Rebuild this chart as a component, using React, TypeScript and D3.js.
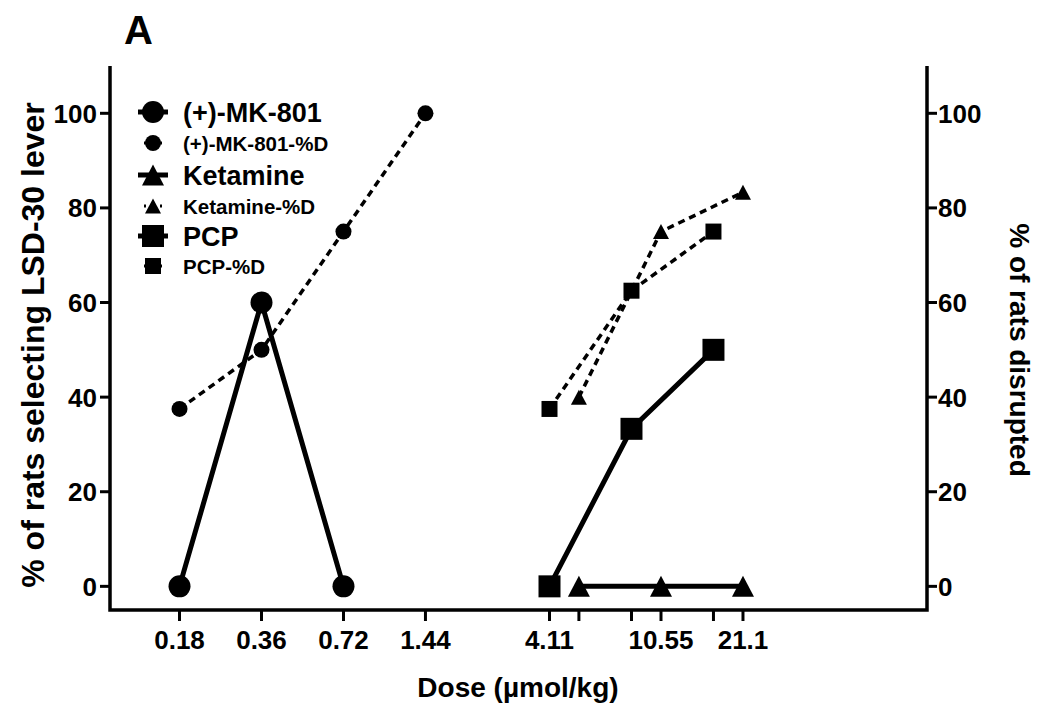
import React from "react";
import * as d3 from "d3";

// dose (µmol/kg) and % values
const mkDose = [0.18, 0.36, 0.72];
const mkLever = [0, 60, 0];
const mkDoseD = [0.18, 0.36, 0.72, 1.44];
const mkDisrupt = [37.5, 50, 75, 100];
const ketDose = [5.27, 10.55, 21.1];
const ketLever = [0, 0, 0];
const ketDisrupt = [40, 75, 83.3];
const pcpDose = [4.11, 8.22, 16.44];
const pcpLever = [0, 33.3, 50];
const pcpDisrupt = [37.5, 62.5, 75];

const xTicks = [0.18, 0.36, 0.72, 1.44, 4.11, 5.27, 8.22, 10.55, 16.44, 21.1];
const xTickLabels = ["0.18", "0.36", "0.72", "1.44", "4.11", "", "", "10.55", "", "21.1"];
const yTicks = [0, 20, 40, 60, 80, 100];

const legendNames = ["(+)-MK-801", "(+)-MK-801-%D", "Ketamine", "Ketamine-%D", "PCP", "PCP-%D"];

const W = 1050;
const H = 711;
const FONT = "'Liberation Sans', Arial, Helvetica, sans-serif";

const x = d3.scaleLog().domain([0.1, 100]).range([110, 927]);
const y = d3.scaleLinear().domain([-5, 110]).range([610, 66]);

type Shape = "circle" | "triangle" | "square";

const markerPath = (shape: Shape, big: boolean) => {
  if (shape === "circle") {
    const r = big ? 11 : 8;
    return `M${-r},0A${r},${r} 0 1,0 ${r},0A${r},${r} 0 1,0 ${-r},0Z`;
  }
  if (shape === "square") {
    const s = big ? 11 : 8;
    return `M${-s},${-s}H${s}V${s}H${-s}Z`;
  }
  const w = big ? 11 : 8;
  const h = big ? 10.5 : 7.5;
  return `M0,${-h}L${w},${h}L${-w},${h}Z`;
};

const line = d3
  .line<[number, number]>()
  .x((d) => x(d[0]))
  .y((d) => y(d[1]));

const series = [
  { name: legendNames[0], dose: mkDose, vals: mkLever, shape: "circle" as Shape, big: true },
  { name: legendNames[1], dose: mkDoseD, vals: mkDisrupt, shape: "circle" as Shape, big: false },
  { name: legendNames[2], dose: ketDose, vals: ketLever, shape: "triangle" as Shape, big: true },
  { name: legendNames[3], dose: ketDose, vals: ketDisrupt, shape: "triangle" as Shape, big: false },
  { name: legendNames[4], dose: pcpDose, vals: pcpLever, shape: "square" as Shape, big: true },
  { name: legendNames[5], dose: pcpDose, vals: pcpDisrupt, shape: "square" as Shape, big: false },
];

const legendY = [112, 143, 175, 206, 236, 266];

export default function App() {
  return (
    <svg
      width={W}
      height={H}
      style={{ position: "absolute", left: 0, top: 0, background: "#fff" }}
      fontFamily={FONT}
      fontWeight="bold"
    >
      <rect width={W} height={H} fill="#fff" />

      {/* panel letter */}
      <text x={124} y={44} fontSize={40}>A</text>

      {/* axes frame */}
      <path d={`M110,${y(110)}V610H927V${y(110)}`} fill="none" stroke="#000" strokeWidth={3.5} />

      {/* left y ticks */}
      {yTicks.map((t) => (
        <g key={"l" + t}>
          <line x1={100} x2={110} y1={y(t)} y2={y(t)} stroke="#000" strokeWidth={3} />
          <text x={97} y={y(t) + 9.5} fontSize={26} textAnchor="end">{t}</text>
        </g>
      ))}
      {/* right y ticks */}
      {yTicks.map((t) => (
        <g key={"r" + t}>
          <line x1={927} x2={937} y1={y(t)} y2={y(t)} stroke="#000" strokeWidth={3} />
          <text x={938} y={y(t) + 9.5} fontSize={26}>{t}</text>
        </g>
      ))}
      {/* x ticks */}
      {xTicks.map((t, i) => (
        <g key={"x" + t}>
          <line x1={x(t)} x2={x(t)} y1={610} y2={621} stroke="#000" strokeWidth={3} />
          <text x={x(t)} y={649} fontSize={26} textAnchor="middle">{xTickLabels[i]}</text>
        </g>
      ))}

      {/* axis titles */}
      <text x={518} y={697} fontSize={28} textAnchor="middle">Dose (µmol/kg)</text>
      <text transform="translate(44,345) rotate(-90)" fontSize={32} textAnchor="middle">
        % of rats selecting LSD-30 lever
      </text>
      <text transform="translate(1010,350) rotate(90)" fontSize={28} textAnchor="middle">
        % of rats disrupted
      </text>

      {/* series */}
      {series.map((s) => {
        const pts = s.dose.map((d, i) => [d, s.vals[i]] as [number, number]);
        return (
          <g key={s.name}>
            <path
              d={line(pts) ?? ""}
              fill="none"
              stroke="#000"
              strokeWidth={s.big ? 5 : 3.5}
              strokeDasharray={s.big ? undefined : "7,5"}
            />
            {pts.map((p, i) => (
              <path
                key={i}
                d={markerPath(s.shape, s.big)}
                transform={`translate(${x(p[0])},${y(p[1])})`}
                fill="#000"
              />
            ))}
          </g>
        );
      })}

      {/* legend */}
      {series.map((s, i) => (
        <g key={"lg" + s.name} transform={`translate(153,${legendY[i]})`}>
          <line
            x1={-15}
            x2={15}
            y1={0}
            y2={0}
            stroke="#000"
            strokeWidth={s.big ? 5 : 3}
            strokeDasharray={s.big ? undefined : "2,6"}
            strokeDashoffset={-6}
          />
          <path d={markerPath(s.shape, s.big)} fill="#000" />
          <text x={30} y={s.big ? 9.5 : 7.5} fontSize={s.big ? 27 : 20.5}>{s.name}</text>
        </g>
      ))}
    </svg>
  );
}
